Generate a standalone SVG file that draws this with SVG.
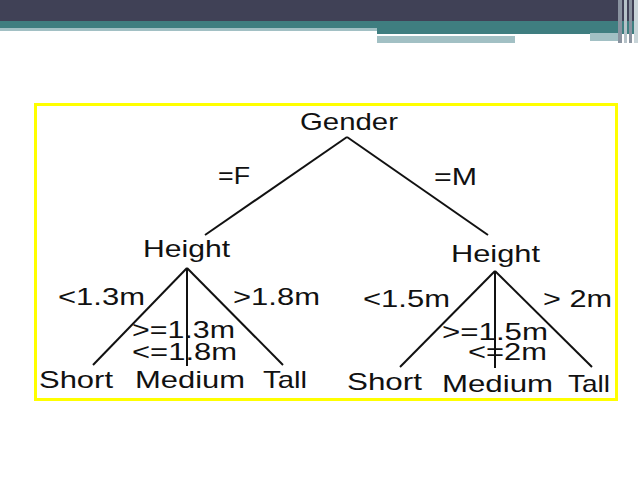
<svg xmlns="http://www.w3.org/2000/svg" width="638" height="478" viewBox="0 0 638 478">
<style>
.t{font-family:"Liberation Sans",Arial,sans-serif;font-size:24px;fill:#111}
.c line{stroke:#111;stroke-width:2}
</style>
<rect width="638" height="478" fill="#fff"/>
<g id="header">
<rect x="0" y="0" width="638" height="21" fill="#404156"/>
<rect x="0" y="21" width="638" height="7" fill="#3f7e80"/>
<rect x="377" y="21" width="261" height="13" fill="#3f7e80"/>
<rect x="0" y="28" width="377" height="3" fill="#a2c0c4"/>
<rect x="377" y="36" width="138" height="7" fill="#a2c0c4"/>
<rect x="590" y="33" width="30" height="8" fill="#a2c0c4"/>
<rect x="618" y="0" width="4" height="43" fill="#8a93a0"/>
<rect x="624" y="0" width="3" height="43" fill="#b6c2c8"/>
<rect x="629" y="0" width="3" height="43" fill="#8a93a0"/>
<rect x="634" y="0" width="4" height="43" fill="#c8d4d8"/>
</g>
<rect id="frame" x="35.5" y="104.5" width="581" height="295" fill="none" stroke="#ffff00" stroke-width="3"/>
<g id="connectors" class="c">
<line x1="347" y1="137" x2="205" y2="235"/>
<line x1="347" y1="137" x2="488" y2="235"/>
<line x1="187" y1="268" x2="93" y2="365"/>
<line x1="187" y1="268" x2="187" y2="366"/>
<line x1="187" y1="268" x2="283" y2="365"/>
<line x1="495" y1="271" x2="400" y2="367"/>
<line x1="495" y1="271" x2="495" y2="368"/>
<line x1="495" y1="271" x2="592" y2="367"/>
</g>
<g id="gender"><text class="t" x="300" y="130" font-size="25" textLength="98" lengthAdjust="spacingAndGlyphs">Gender</text></g>
<g id="edgeF"><text class="t" x="218" y="184" textLength="32" lengthAdjust="spacingAndGlyphs">=F</text></g>
<g id="edgeM"><text class="t" x="434" y="185" textLength="43" lengthAdjust="spacingAndGlyphs">=M</text></g>
<g id="heightL"><text class="t" x="143" y="257" textLength="87" lengthAdjust="spacingAndGlyphs">Height</text></g>
<g id="heightR"><text class="t" x="451" y="262" textLength="89" lengthAdjust="spacingAndGlyphs">Height</text></g>
<g id="labelsL">
<text class="t" x="58" y="305" textLength="87" lengthAdjust="spacingAndGlyphs">&lt;1.3m</text>
<text class="t" x="233" y="305" textLength="87" lengthAdjust="spacingAndGlyphs">&gt;1.8m</text>
<text class="t" x="132" y="338" textLength="103" lengthAdjust="spacingAndGlyphs">&gt;=1.3m</text>
<text class="t" x="132" y="360" textLength="105" lengthAdjust="spacingAndGlyphs">&lt;=1.8m</text>
</g>
<g id="shortL"><text class="t" x="39" y="388" textLength="74" lengthAdjust="spacingAndGlyphs">Short</text></g>
<g id="mediumL"><text class="t" x="135" y="388" textLength="110" lengthAdjust="spacingAndGlyphs">Medium</text></g>
<g id="tallL"><text class="t" x="263" y="388" textLength="44" lengthAdjust="spacingAndGlyphs">Tall</text></g>
<g id="labelsR">
<text class="t" x="363" y="307" textLength="87" lengthAdjust="spacingAndGlyphs">&lt;1.5m</text>
<text class="t" x="543" y="307" textLength="69" lengthAdjust="spacingAndGlyphs">&gt; 2m</text>
<text class="t" x="442" y="340" textLength="106" lengthAdjust="spacingAndGlyphs">&gt;=1.5m</text>
<text class="t" x="468" y="360" textLength="79" lengthAdjust="spacingAndGlyphs">&lt;=2m</text>
</g>
<g id="shortR"><text class="t" x="347" y="390" textLength="75" lengthAdjust="spacingAndGlyphs">Short</text></g>
<g id="mediumR"><text class="t" x="442" y="392" textLength="111" lengthAdjust="spacingAndGlyphs">Medium</text></g>
<g id="tallR"><text class="t" x="568" y="392" textLength="42" lengthAdjust="spacingAndGlyphs">Tall</text></g>
</svg>
